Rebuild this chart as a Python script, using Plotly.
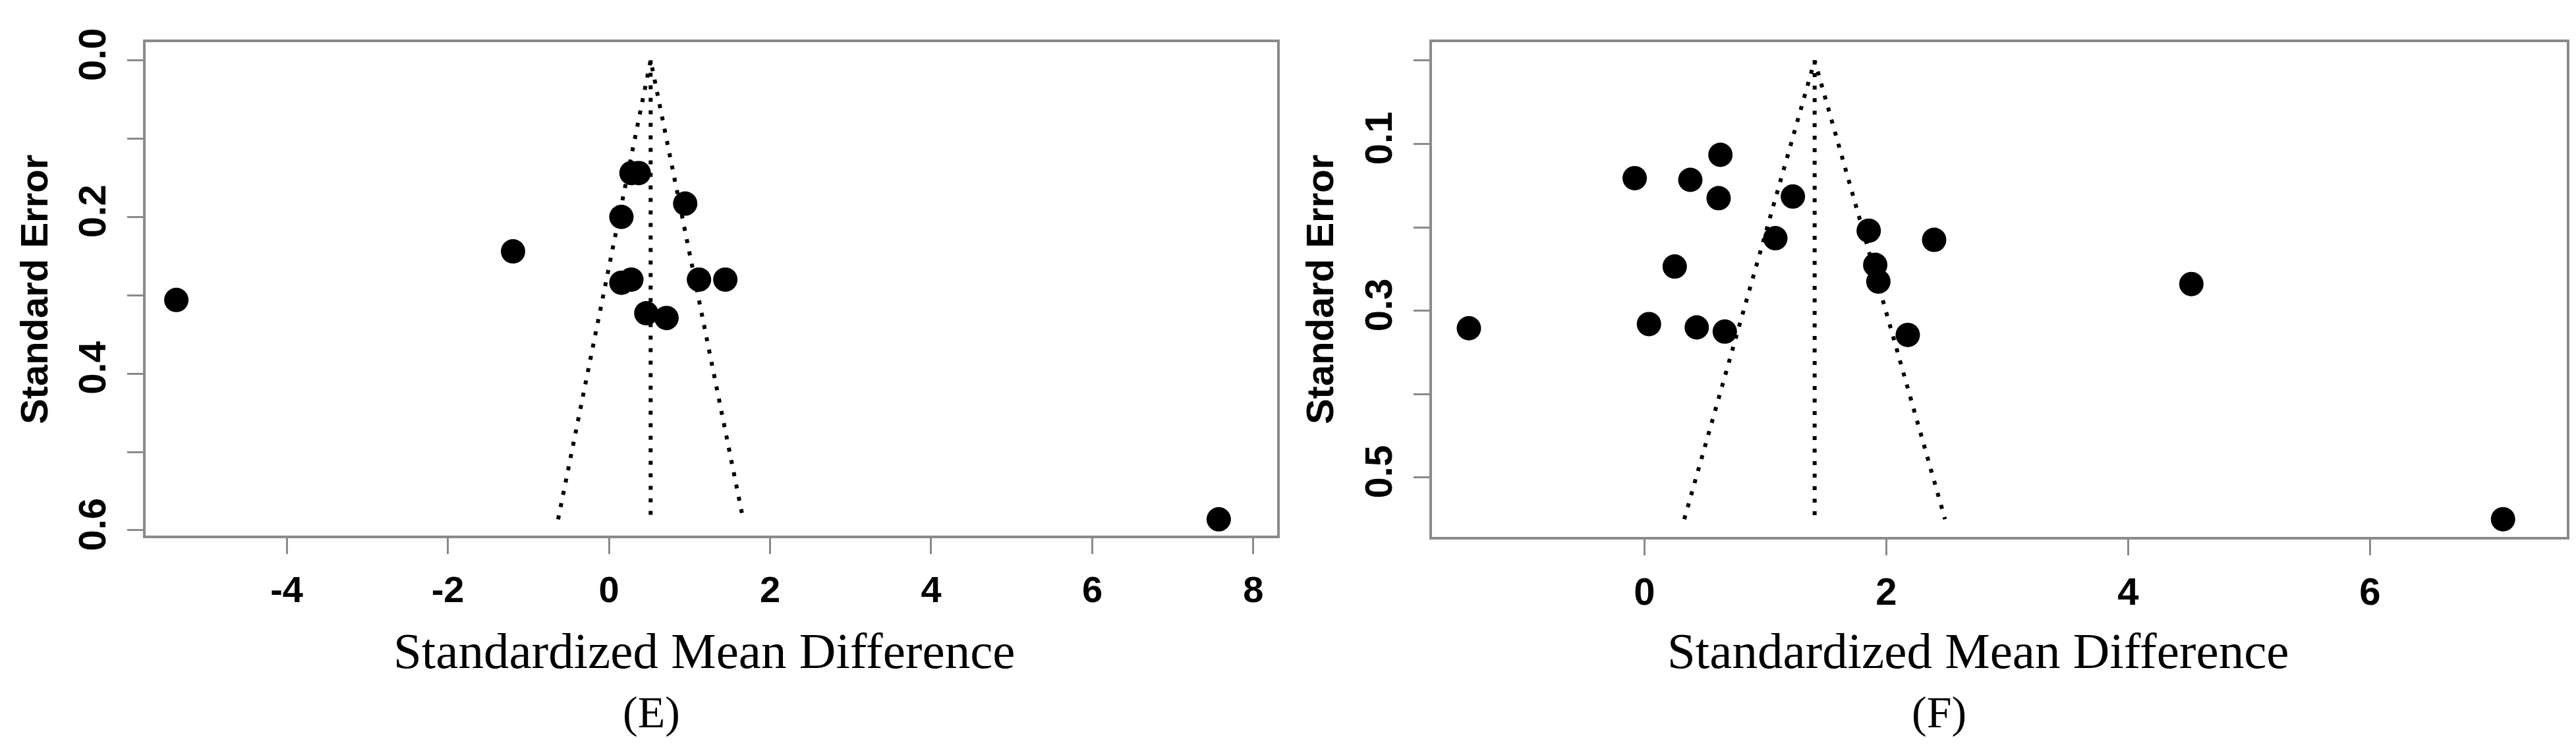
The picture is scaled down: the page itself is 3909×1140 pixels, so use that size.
import plotly.graph_objects as go

# ---------------- Panel (E) ----------------
e_smd = [-5.37, -1.19, 0.155, 0.28, 0.37, 0.947, 0.155, 0.278, 1.118, 1.445, 0.464, 0.715, 7.57]
e_se = [0.306, 0.244, 0.200, 0.144, 0.144, 0.183, 0.284, 0.280, 0.280, 0.280, 0.323, 0.329, 0.586]
e_pooled = 0.518
e_se_max = 0.586
e_xticks = [-4, -2, 0, 2, 4, 6, 8]
e_xticktext = ["-4", "-2", "0", "2", "4", "6", "8"]
e_yticks = [0.0, 0.1, 0.2, 0.3, 0.4, 0.5, 0.6]
e_yticktext = ["0.0", "", "0.2", "", "0.4", "", "0.6"]

# ---------------- Panel (F) ----------------
f_smd = [-1.451, -0.080, 0.038, 0.251, 0.380, 0.433, 0.614, 0.629, 0.665, 1.083,
         1.228, 1.855, 1.909, 1.935, 2.178, 2.396, 4.523, 7.10]
f_se = [0.321, 0.141, 0.316, 0.247, 0.143, 0.320, 0.165, 0.113, 0.325, 0.213,
        0.163, 0.204, 0.245, 0.265, 0.329, 0.215, 0.268, 0.550]
f_pooled = 1.408
f_se_max = 0.550
f_xticks = [0, 2, 4, 6]
f_xticktext = ["0", "2", "4", "6"]
f_yticks = [0.0, 0.1, 0.2, 0.3, 0.4, 0.5]
f_yticktext = ["", "0.1", "", "0.3", "", "0.5"]

x_title = "Standardized Mean Difference"
y_title = "Standard Error"
panel_labels = ["(E)", "(F)"]

W, H = 3909, 1140
Z = 1.96

fig = go.Figure()


def add_panel(smd, se, pooled, se_max, xa, ya):
    # funnel limits (dotted)
    fig.add_trace(go.Scatter(
        x=[pooled - Z * se_max, pooled, pooled + Z * se_max],
        y=[se_max, 0, se_max],
        mode="lines", xaxis=xa, yaxis=ya,
        line=dict(color="black", width=6, dash="6px,13px"),
        hoverinfo="skip", showlegend=False))
    # vertical line at pooled estimate
    fig.add_trace(go.Scatter(
        x=[pooled, pooled], y=[0, se_max],
        mode="lines", xaxis=xa, yaxis=ya,
        line=dict(color="black", width=6, dash="6px,13px"),
        hoverinfo="skip", showlegend=False))
    fig.add_trace(go.Scatter(
        x=smd, y=se, mode="markers", xaxis=xa, yaxis=ya,
        marker=dict(color="black", size=37, line=dict(width=0)),
        showlegend=False))


add_panel(e_smd, e_se, e_pooled, e_se_max, "x", "y")
add_panel(f_smd, f_se, f_pooled, f_se_max, "x2", "y2")

frame_color = "#8a8a8a"
tick_font = dict(family="Liberation Sans", size=58, color="black", weight="bold")

common = dict(showline=True, mirror=True, linecolor=frame_color, linewidth=4,
              ticks="outside", ticklen=24, tickwidth=3, tickcolor=frame_color,
              showgrid=False, zeroline=False, fixedrange=True)

fig.update_layout(
    width=W, height=H,
    margin=dict(l=0, r=0, t=0, b=0),
    paper_bgcolor="white", plot_bgcolor="white",
    xaxis=dict(domain=[213 / W, 1930 / W], range=[-5.751, 8.295], anchor="y",
               tickvals=e_xticks, ticktext=e_xticktext, ticklabelstandoff=6,
               tickfont=dict(family="Liberation Sans", size=56, color="black", weight="bold"),
               **common),
    yaxis=dict(domain=[1 - 816 / H, 1 - 36 / H], range=[0.6066, -0.0234], anchor="x",
               tickvals=e_yticks, ticktext=e_yticktext, tickangle=-90,
               ticklabelstandoff=10, tickfont=tick_font, **common),
    xaxis2=dict(domain=[2165 / W, 3887 / W], range=[-1.756, 7.627], anchor="y2",
                tickvals=f_xticks, ticktext=f_xticktext, ticklabelstandoff=6,
                tickfont=tick_font, **common),
    yaxis2=dict(domain=[1 - 818 / H, 1 - 36.7 / H], range=[0.571, -0.0219], anchor="x2",
                tickvals=f_yticks, ticktext=f_yticktext, tickangle=-90,
                ticklabelstandoff=10, tickfont=tick_font, **common),
)

annos = []
for cx, cy in [(43, 428), (1994, 428)]:
    annos.append(dict(text=y_title, x=cx / W, y=1 - cy / H, xref="paper", yref="paper",
                      xanchor="center", yanchor="middle", textangle=-90, showarrow=False,
                      font=dict(family="Liberation Sans", size=58, color="black", weight="bold")))
for cx in [1061, 2994]:
    annos.append(dict(text=x_title, x=cx / W, y=1 - 998 / H, xref="paper", yref="paper",
                      xanchor="center", yanchor="middle", showarrow=False,
                      font=dict(family="Liberation Serif", size=77, color="black")))
for cx, lab in zip([980, 2934], panel_labels):
    annos.append(dict(text=lab, x=cx / W, y=1 - 1095 / H, xref="paper", yref="paper",
                      xanchor="center", yanchor="middle", showarrow=False,
                      font=dict(family="Liberation Serif", size=68, color="black")))
fig.update_layout(annotations=annos)

fig.write_html("out.html")
